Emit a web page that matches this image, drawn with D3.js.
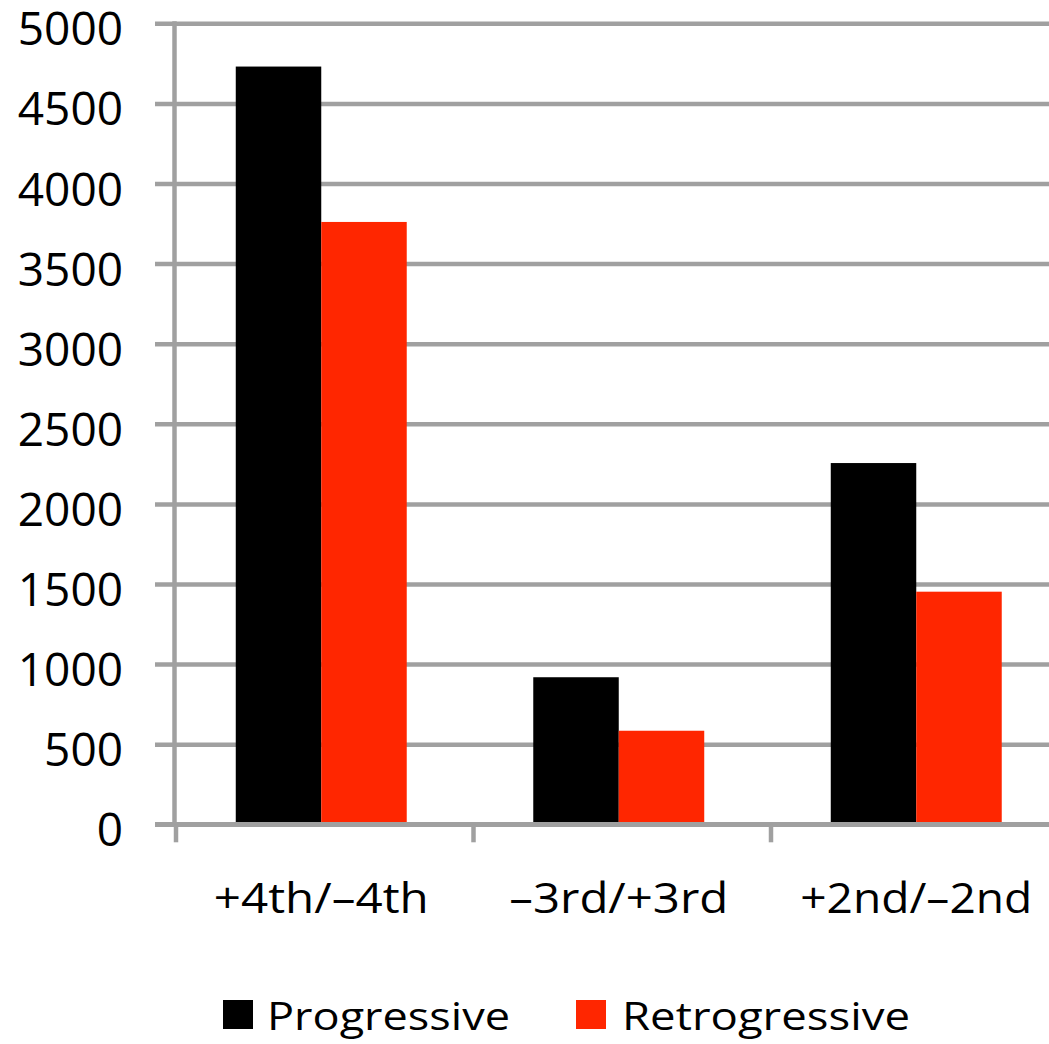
<!DOCTYPE html>
<html>
<head>
<meta charset="utf-8">
<script src="https://cdn.jsdelivr.net/npm/d3@7"></script>
<style>
  html, body { margin: 0; padding: 0; background: #fff; }
  svg { display: block; }
  text { font-family: "Open Sans", sans-serif; fill: #000; }
</style>
</head>
<body>
<svg id="chart" width="1049" height="1044"></svg>
<script>
// ---- data ----
const categories = ["+4th/\u20134th", "\u20133rd/+3rd", "+2nd/\u20132nd"];
const seriesNames = ["Progressive", "Retrogressive"];
const progressive = [4730, 918, 2255];
const retrogressive = [3760, 584, 1452];
const yTicks = [0, 500, 1000, 1500, 2000, 2500, 3000, 3500, 4000, 4500, 5000];
const seriesColors = ["#000000", "#ff2600"];

// ---- layout ----
const svg = d3.select("#chart");
const W = 1049;
const axisX = 174.5, yBottom = 824.3, yTop = 23.3;
const gridLeft = 155;
const catStep = 297.5;

const y = d3.scaleLinear().domain([0, 5000]).range([yBottom, yTop]);
const x = d3.scaleBand().domain(categories).range([172.5, 172.5 + catStep * categories.length]).paddingInner(0).paddingOuter(0);
const xs = d3.scaleBand().domain(seriesNames).range([0, x.bandwidth()]).paddingInner(0).paddingOuter(0.74);

const gridColor = "#a0a0a0";

// gridlines (also act as left ticks)
const grid = svg.append("g").attr("transform", `translate(${gridLeft},0)`)
  .call(d3.axisRight(y).tickValues(yTicks).tickSize(W - gridLeft).tickFormat(""));
grid.select(".domain").remove();
grid.selectAll("line").attr("stroke", gridColor).attr("stroke-width", 4.5);

// y labels
const ylab = svg.append("g").attr("transform", `translate(123,0)`)
  .call(d3.axisLeft(y).tickValues(yTicks).tickSize(0).tickPadding(0).tickFormat(d3.format("d")));
ylab.select(".domain").remove();
ylab.selectAll("text")
  .attr("font-family", "Open Sans, sans-serif")
  .attr("font-size", 46)
  .attr("fill", "#000")
  .attr("dy", null)
  .attr("y", 21.5)
  .attr("text-anchor", "end");

// bars
const rows = categories.map((c, i) => ({ cat: c, vals: [progressive[i], retrogressive[i]] }));
const groups = svg.append("g").selectAll("g").data(rows).join("g")
  .attr("transform", d => `translate(${x(d.cat)},0)`);
groups.selectAll("rect").data(d => d.vals.map((v, j) => ({ name: seriesNames[j], v, j })))
  .join("rect")
  .attr("x", d => xs(d.name))
  .attr("width", xs.bandwidth())
  .attr("y", d => y(d.v))
  .attr("height", d => yBottom - y(d.v))
  .attr("fill", d => seriesColors[d.j]);

// y axis line
svg.append("line").attr("x1", axisX).attr("x2", axisX).attr("y1", yTop - 2).attr("y2", yBottom)
  .attr("stroke", gridColor).attr("stroke-width", 4.5);

// x axis with ticks at category boundaries
const bounds = [0, 1, 2, 3].map(i => 176 + i * 297.5);
svg.append("line").attr("x1", gridLeft).attr("x2", W).attr("y1", yBottom).attr("y2", yBottom)
  .attr("stroke", gridColor).attr("stroke-width", 4.5);
svg.append("g").selectAll("line").data(bounds).join("line")
  .attr("x1", d => d).attr("x2", d => d)
  .attr("y1", yBottom).attr("y2", yBottom + 18)
  .attr("stroke", gridColor).attr("stroke-width", 4.5);

// x labels
const xLabelWidths = [215, 219, 232];
svg.append("g").selectAll("text").data(categories).join("text")
  .attr("x", d => x(d) + x.bandwidth() / 2)
  .attr("y", 913)
  .attr("text-anchor", "middle")
  .attr("font-size", 42)
  .attr("textLength", (d, i) => xLabelWidths[i])
  .attr("lengthAdjust", "spacingAndGlyphs")
  .text(d => d);

// legend
const legendItems = [
  { name: seriesNames[0], color: seriesColors[0], sx: 223, tx: 267, w: 243 },
  { name: seriesNames[1], color: seriesColors[1], sx: 576, tx: 622, w: 288 }
];
const lg = svg.append("g");
lg.selectAll("rect").data(legendItems).join("rect")
  .attr("x", d => d.sx).attr("y", 1000).attr("width", 30).attr("height", 29)
  .attr("fill", d => d.color);
lg.selectAll("text").data(legendItems).join("text")
  .attr("x", d => d.tx).attr("y", 1030)
  .attr("font-size", 39)
  .attr("textLength", d => d.w)
  .attr("lengthAdjust", "spacingAndGlyphs")
  .text(d => d.name);
</script>
</body>
</html>
